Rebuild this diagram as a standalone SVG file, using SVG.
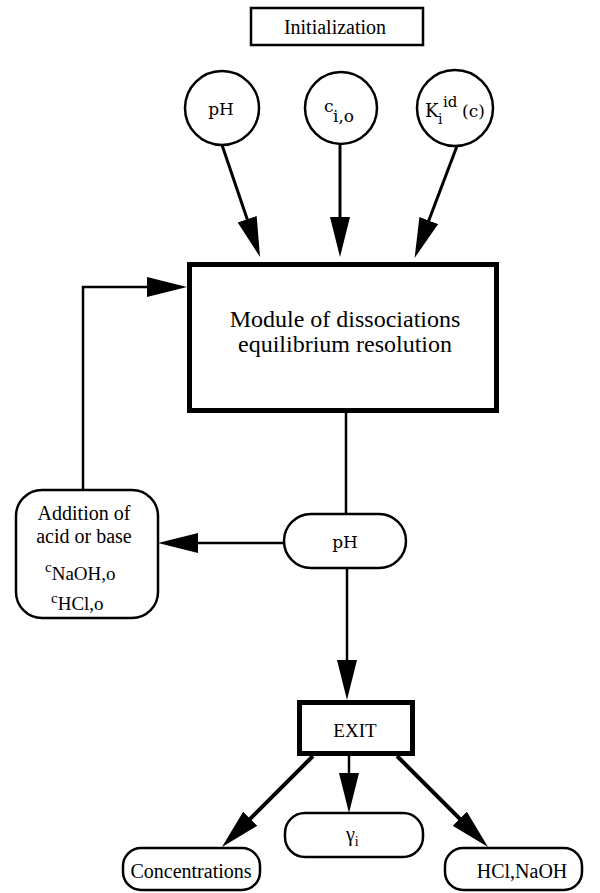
<svg xmlns="http://www.w3.org/2000/svg" width="600" height="893" viewBox="0 0 600 893">
<style>
text{font-family:"Liberation Serif","Times New Roman",serif;fill:#000}
.m{text-anchor:middle}
.st{text-anchor:start}
.sch{font-family:"DejaVu Serif","Liberation Serif",serif;font-size:17px}
.shape{fill:#fff;stroke:#000;stroke-width:2.5}
.thick{fill:#fff;stroke:#000;stroke-width:5}
.ln{fill:none;stroke:#000;stroke-width:2.5}
.ln3{fill:none;stroke:#000;stroke-width:3}
.ln4{fill:none;stroke:#000;stroke-width:4}
</style>
<defs>
<marker id="ah" markerUnits="userSpaceOnUse" markerWidth="42" markerHeight="22" refX="20" refY="10" orient="auto" viewBox="0 0 42 22">
<path d="M0,0 L40,10 L0,20 Z" fill="#000"/>
</marker>
</defs>
<g id="connectors">
<line class="ln3" x1="222" y1="145" x2="253.6" y2="238.1" marker-end="url(#ah)"/>
<line class="ln3" x1="340" y1="144" x2="340" y2="237" marker-end="url(#ah)"/>
<line class="ln3" x1="457" y1="146" x2="421.7" y2="239.2" marker-end="url(#ah)"/>
<polyline class="ln" points="83,490 83,287 167,287" marker-end="url(#ah)"/>
<line class="ln" x1="346" y1="413" x2="346" y2="514"/>
<line class="ln" x1="284" y1="543" x2="178" y2="543" marker-end="url(#ah)"/>
<line class="ln" x1="347" y1="568" x2="347" y2="680" marker-end="url(#ah)"/>
<line class="ln4" x1="313" y1="756" x2="236.1" y2="832.9" marker-end="url(#ah)"/>
<line class="ln" x1="349" y1="756" x2="349" y2="793" marker-end="url(#ah)"/>
<line class="ln4" x1="397" y1="756" x2="473.9" y2="832.9" marker-end="url(#ah)"/>
</g>
<g id="init">
<rect class="shape" x="251" y="8" width="172" height="37"/>
<text class="m" x="335" y="34" font-size="20">Initialization</text>
</g>
<g id="in-ph">
<circle class="shape" cx="222" cy="108" r="37"/>
<text class="sch m" x="221" y="115">pH</text>
</g>
<g id="in-c">
<circle class="shape" cx="341" cy="108" r="36"/>
<text class="sch st"><tspan x="324" y="112">c</tspan><tspan x="333" y="122">i,o</tspan></text>
</g>
<g id="in-k">
<circle class="shape" cx="455" cy="108" r="38"/>
<text class="sch st"><tspan x="425" y="117" font-size="18">K</tspan><tspan x="438" y="124" font-size="14">i</tspan><tspan x="443" y="107" font-size="15">id</tspan><tspan x="462" y="117">(c)</tspan></text>
</g>
<g id="module">
<rect class="thick" x="189.5" y="264.5" width="307" height="146"/>
<text class="m" x="345" y="327" font-size="24">Module of dissociations</text>
<text class="m" x="345" y="352" font-size="24">equilibrium resolution</text>
</g>
<g id="ph-out">
<rect class="shape" x="284" y="514" width="122" height="54" rx="27"/>
<text class="sch m" x="345" y="548">pH</text>
</g>
<g id="addition">
<rect class="shape" x="16" y="490" width="142" height="128" rx="26"/>
<text class="m" x="84" y="520" font-size="20">Addition of</text>
<text class="m" x="84" y="543" font-size="20">acid or base</text>
<text class="st" font-size="15"><tspan x="45" y="572">c</tspan><tspan font-size="19" y="580">NaOH,o</tspan></text>
<text class="st" font-size="15"><tspan x="51" y="603">c</tspan><tspan font-size="19" y="610">HCl,o</tspan></text>
</g>
<g id="exit">
<rect class="thick" x="299.5" y="702.5" width="113" height="51"/>
<text class="m" x="355" y="737" font-size="19">EXIT</text>
</g>
<g id="conc">
<rect class="shape" x="123" y="848" width="137" height="42" rx="18"/>
<text class="m" x="191" y="878" font-size="20">Concentrations</text>
</g>
<g id="gamma">
<rect class="shape" x="285" y="813" width="138" height="44" rx="20"/>
<text class="st" font-size="20"><tspan x="346" y="841">γ</tspan><tspan font-size="14" y="846">i</tspan></text>
</g>
<g id="hcl">
<rect class="shape" x="445" y="848" width="137" height="42" rx="18"/>
<text class="m" x="522" y="878" font-size="20">HCl,NaOH</text>
</g>
</svg>
